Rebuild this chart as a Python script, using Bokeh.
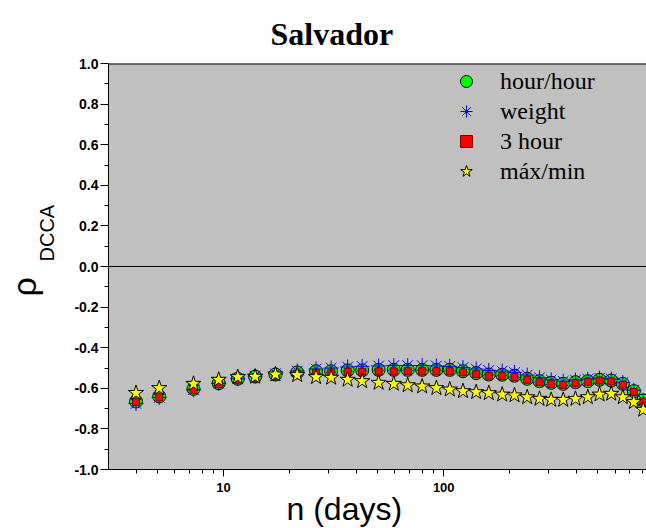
from bokeh.plotting import figure
from bokeh.models import (FixedTicker, NumeralTickFormatter, Span, Title, Legend, LegendItem)
from bokeh.embed import file_html
from bokeh.resources import INLINE

# ---------------- data ----------------
n_days = [4, 5.1, 7.3, 9.5, 11.6, 13.9, 17.2, 21.6, 26.3, 30.8, 36.6, 42.6, 50.6, 59.3,
          68.6, 79.8, 92.6, 106.5, 122.3, 140.4, 160.2, 184.3, 209.6, 239.4, 272.3,
          307.7, 348.9, 396.8, 451.4, 510.3, 576.8, 651, 730.4, 806]

hour_hour = [-0.665, -0.640, -0.603, -0.575, -0.553, -0.542, -0.532, -0.522, -0.516, -0.516,
             -0.512, -0.512, -0.509, -0.509, -0.509, -0.509, -0.509, -0.509, -0.516, -0.525,
             -0.532, -0.533, -0.538, -0.553, -0.565, -0.573, -0.578, -0.570, -0.565, -0.558,
             -0.562, -0.578, -0.614, -0.660]

weight = [-0.675, -0.645, -0.607, -0.575, -0.553, -0.540, -0.528, -0.515, -0.505, -0.500,
          -0.495, -0.492, -0.490, -0.488, -0.488, -0.488, -0.490, -0.492, -0.498, -0.505,
          -0.512, -0.515, -0.522, -0.535, -0.548, -0.558, -0.565, -0.560, -0.555, -0.550,
          -0.555, -0.572, -0.610, -0.660]

three_hour = [-0.668, -0.645, -0.607, -0.580, -0.558, -0.548, -0.538, -0.528, -0.523, -0.522,
              -0.519, -0.519, -0.517, -0.517, -0.516, -0.516, -0.516, -0.516, -0.522, -0.531,
              -0.538, -0.540, -0.545, -0.558, -0.570, -0.578, -0.583, -0.575, -0.568, -0.562,
              -0.566, -0.582, -0.618, -0.665]

max_min = [-0.623, -0.599, -0.578, -0.558, -0.545, -0.543, -0.532, -0.535, -0.545, -0.548,
           -0.558, -0.565, -0.573, -0.578, -0.585, -0.591, -0.599, -0.606, -0.614, -0.619,
           -0.624, -0.631, -0.635, -0.644, -0.652, -0.657, -0.657, -0.652, -0.644, -0.631,
           -0.627, -0.644, -0.668, -0.706]

series_names = ["hour/hour", "weight", "3 hour", "máx/min"]

y_ticks = [-1.0, -0.8, -0.6, -0.4, -0.2, 0.0, 0.2, 0.4, 0.6, 0.8, 1.0]
y_minor = [-0.9, -0.7, -0.5, -0.3, -0.1, 0.1, 0.3, 0.5, 0.7, 0.9]
x_ticks = [10, 100]
x_minor = [4, 5, 6, 7, 8, 9, 20, 30, 40, 50, 60, 70, 80, 90, 200, 300, 400, 500, 600, 700, 800]

title_text = "Salvador"
x_title = "n (days)"
y_title_main = "ρ"
y_title_sub = "DCCA"

# ---------------- figure ----------------
p = figure(width=646, height=528, x_axis_type="log", x_range=(3, 834), y_range=(-1.0, 1.0),
           output_backend="svg", toolbar_location=None,
           min_border_left=108, min_border_right=0, min_border_top=63, min_border_bottom=59)
p.background_fill_color = "#C0C0C0"
p.border_fill_color = "white"
p.outline_line_color = None
p.grid.visible = False

for ax in (p.xaxis[0], p.yaxis[0]):
    ax.axis_line_color = "black"
    ax.axis_line_width = 1
    ax.major_tick_line_color = "black"
    ax.minor_tick_line_color = "black"
    ax.major_tick_in = 0
    ax.minor_tick_in = 0
    ax.major_label_text_font = "Liberation Sans"
    ax.major_label_text_font_style = "bold"
    ax.major_label_text_color = "black"

p.yaxis.ticker = FixedTicker(ticks=y_ticks, minor_ticks=y_minor)
p.yaxis.formatter = NumeralTickFormatter(format="0.0")
p.yaxis.major_tick_out = 8
p.yaxis.minor_tick_out = 4
p.yaxis.major_label_standoff = 2
p.yaxis.major_label_text_font_size = "14px"

p.xaxis.ticker = FixedTicker(ticks=x_ticks, minor_ticks=x_minor)
p.xaxis.formatter = NumeralTickFormatter(format="0")
p.xaxis.major_tick_out = 7
p.xaxis.minor_tick_out = 4
p.xaxis.major_label_standoff = 6
p.xaxis.major_label_text_font_size = "13px"

# zero line and top border
p.add_layout(Span(location=0, dimension="width", line_color="black", line_width=1))
p.add_layout(Span(location=1.0, dimension="width", line_color="black", line_width=2))

r1 = p.scatter(n_days, hour_hour, marker="circle", size=13, fill_color="#00FF00",
               line_color="black", line_width=1)
r2 = p.scatter(n_days, weight, marker="asterisk", size=15, line_color="#0000FF", line_width=1)
r3 = p.scatter(n_days, three_hour, marker="square", size=7, fill_color="#FF0000",
               line_color="#7A0000", line_width=1)
r4 = p.scatter(n_days, max_min, marker="star", size=16, fill_color="#FFFF00",
               line_color="black", line_width=1)

legend = Legend(items=[LegendItem(label=series_names[0], renderers=[r1]),
                       LegendItem(label=series_names[1], renderers=[r2]),
                       LegendItem(label=series_names[2], renderers=[r3]),
                       LegendItem(label=series_names[3], renderers=[r4])],
                location=(342, 283))
legend.background_fill_alpha = 0
legend.border_line_color = None
legend.label_text_font = "Liberation Serif"
legend.label_text_font_size = "24px"
legend.label_text_color = "black"
legend.label_height = 30
legend.glyph_height = 30
legend.glyph_width = 32
legend.label_standoff = 18
legend.spacing = 0
legend.padding = 4
legend.margin = 0
p.add_layout(legend)

# chart title
p.title.visible = False
p.add_layout(Title(text=title_text, align="left", offset=162, standoff=24,
                   text_font="Liberation Serif", text_font_style="bold",
                   text_font_size="32px", text_color="black"), "above")

# x axis title
p.add_layout(Title(text=x_title, align="left", offset=178, standoff=-11,
                   text_font="Liberation Sans", text_font_style="normal",
                   text_font_size="32px", text_color="black"), "below")
# y axis title: subscript (inner) then rho (outer)
p.add_layout(Title(text=y_title_sub, align="left", offset=208, standoff=27,
                   text_font="Liberation Sans", text_font_style="normal",
                   text_font_size="20px", text_color="black"), "left")
p.add_layout(Title(text=y_title_main, align="left", offset=173, standoff=-44,
                   text_font="Liberation Sans", text_font_style="normal",
                   text_font_size="34px", text_color="black"), "left")

open("out.html", "w").write(file_html(p, INLINE))
